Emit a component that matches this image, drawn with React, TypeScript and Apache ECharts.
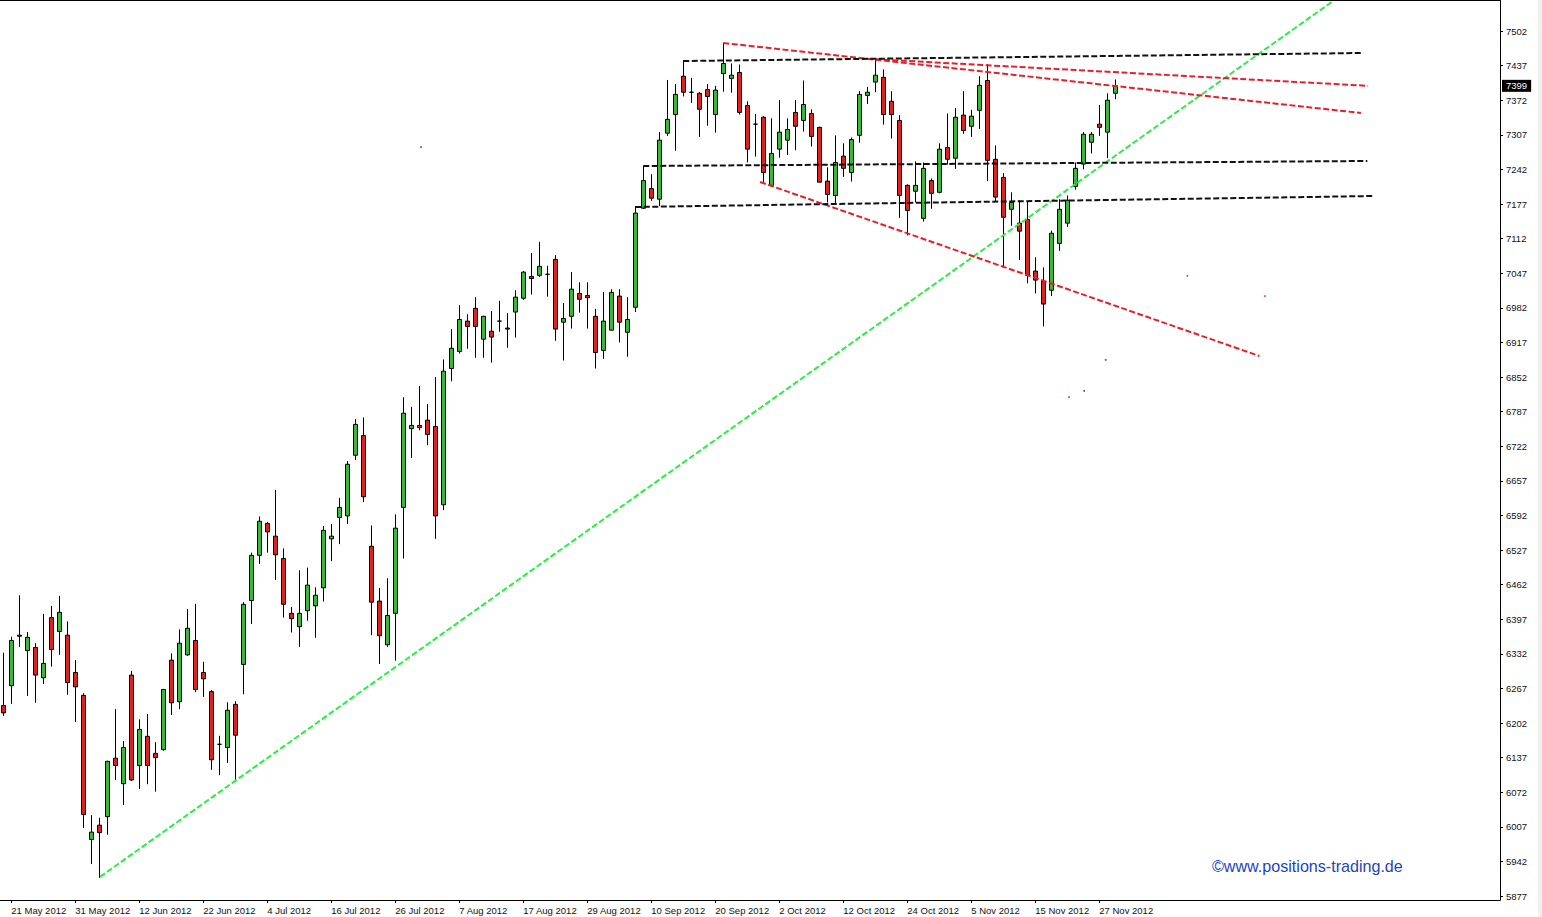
import { useEffect, useRef } from "react";
import * as echarts from "echarts";

const opens = [
  6235, 6272, 6367, 6338, 6344, 6287, 6400, 6374, 6367, 6297,
  6254, 5983, 6010, 6026, 6136, 6088, 6292, 6122, 6177, 6145,
  6152, 6320, 6242, 6330, 6357, 6297, 6261, 6162, 6156, 6237,
  6312, 6432, 6517, 6577, 6553, 6511, 6408, 6383, 6413, 6422,
  6456, 6548, 6588, 6591, 6705, 6742, 6534, 6431, 6349, 6408,
  6607, 6755, 6761, 6771, 6759, 6612, 6868, 6900, 6957, 6981,
  6923, 6938, 6957, 6944, 6974, 7000, 7041, 7043, 7045, 7073,
  6955, 6966, 7009, 7005, 6966, 6902, 6940, 7004, 6936, 6983,
  7169, 7206, 7186, 7310, 7345, 7417, 7387, 7385, 7392, 7345,
  7422, 7413, 7424, 7362, 7327, 7340, 7212, 7280, 7297, 7349,
  7334, 7347, 7321, 7220, 7193, 7267, 7236, 7306, 7381, 7406,
  7415, 7370, 7334, 7212, 7201, 7150, 7221, 7199, 7283, 7263,
  7344, 7323, 7353, 7409, 7261, 7227, 7167, 7141, 7148, 7051,
  7032, 7015, 7103, 7141, 7210, 7252, 7293, 7327, 7312, 7385,
];
const closes = [
  6221, 6357, 6365, 6363, 6292, 6314, 6340, 6410, 6278, 6270,
  6030, 5997, 5996, 6130, 6122, 6156, 6095, 6190, 6122, 6137,
  6265, 6240, 6352, 6380, 6265, 6285, 6133, 6162, 6226, 6179,
  6425, 6517, 6581, 6561, 6518, 6425, 6398, 6408, 6461, 6442,
  6564, 6553, 6607, 6688, 6763, 6627, 6429, 6366, 6404, 6568,
  6784, 6761, 6757, 6744, 6591, 6863, 6906, 6960, 6947, 6947,
  6966, 6927, 6957, 6942, 7002, 7049, 7037, 7060, 7045, 6942,
  6962, 7017, 6998, 7001, 6898, 6957, 7011, 6955, 6960, 7160,
  7221, 7188, 7297, 7336, 7383, 7387, 7387, 7355, 7379, 7391,
  7441, 7419, 7349, 7280, 7327, 7236, 7272, 7312, 7317, 7323,
  7364, 7304, 7218, 7195, 7255, 7244, 7298, 7383, 7387, 7419,
  7345, 7345, 7193, 7165, 7212, 7244, 7197, 7280, 7261, 7340,
  7315, 7342, 7400, 7259, 7190, 7152, 7180, 7126, 7043, 7034,
  6989, 7122, 7167, 7184, 7244, 7308, 7308, 7321, 7372, 7399,
];
const lows = [
  6215, 6238, 6345, 6253, 6240, 6275, 6308, 6330, 6255, 6204,
  6005, 5937, 5911, 5992, 6095, 6048, 6093, 6078, 6087, 6073,
  6150, 6217, 6228, 6328, 6260, 6251, 6114, 6104, 6127, 6092,
  6256, 6388, 6501, 6522, 6471, 6400, 6372, 6345, 6394, 6362,
  6430, 6506, 6538, 6576, 6696, 6617, 6367, 6313, 6345, 6319,
  6511, 6700, 6752, 6724, 6548, 6602, 6844, 6896, 6905, 6888,
  6888, 6879, 6937, 6907, 6926, 6997, 7007, 7040, 7003, 6920,
  6883, 6943, 6973, 6943, 6868, 6886, 6940, 6917, 6890, 6974,
  7168, 7183, 7173, 7305, 7277, 7379, 7367, 7303, 7324, 7311,
  7388, 7386, 7345, 7255, 7266, 7216, 7212, 7264, 7269, 7278,
  7313, 7285, 7218, 7180, 7178, 7228, 7219, 7292, 7365, 7387,
  7326, 7300, 7151, 7118, 7180, 7144, 7168, 7197, 7251, 7243,
  7309, 7303, 7318, 7220, 7182, 7059, 7136, 7072, 7028, 7009,
  6947, 7004, 7089, 7134, 7204, 7242, 7272, 7305, 7263, 7374,
];
const highs = [
  6334, 6364, 6442, 6373, 6352, 6407, 6422, 6441, 6393, 6320,
  6258, 6029, 6024, 6131, 6228, 6168, 6300, 6209, 6219, 6166,
  6266, 6333, 6378, 6416, 6426, 6317, 6264, 6178, 6241, 6243,
  6429, 6522, 6590, 6580, 6640, 6530, 6420, 6489, 6494, 6457,
  6572, 6576, 6625, 6694, 6773, 6776, 6573, 6456, 6474, 6594,
  6814, 6796, 6835, 6801, 6852, 6885, 6942, 6987, 6970, 7002,
  6967, 6976, 6995, 6972, 7015, 7051, 7085, 7106, 7061, 7081,
  6991, 7049, 7030, 7030, 6980, 7012, 7017, 7017, 7002, 7173,
  7249, 7233, 7312, 7410, 7402, 7447, 7414, 7387, 7402, 7399,
  7480, 7441, 7439, 7370, 7346, 7342, 7338, 7372, 7338, 7372,
  7409, 7355, 7322, 7246, 7306, 7291, 7302, 7389, 7397, 7451,
  7430, 7389, 7344, 7214, 7257, 7255, 7225, 7291, 7347, 7357,
  7389, 7354, 7417, 7440, 7287, 7235, 7199, 7184, 7182, 7077,
  7058, 7127, 7186, 7193, 7255, 7312, 7312, 7363, 7385, 7411,
];

// bar index -> date label, every 8th bar
const dateTicks = [1, 9, 17, 25, 33, 41, 49, 57, 65, 73, 81, 89, 97, 105, 113, 121, 129, 137];
const dateLabels = [
  "21 May 2012", "31 May 2012", "12 Jun 2012", "22 Jun 2012", "4 Jul 2012", "16 Jul 2012",
  "26 Jul 2012", "7 Aug 2012", "17 Aug 2012", "29 Aug 2012", "10 Sep 2012", "20 Sep 2012",
  "2 Oct 2012", "12 Oct 2012", "24 Oct 2012", "5 Nov 2012", "15 Nov 2012", "27 Nov 2012",
];
const priceTicks = [
  7502, 7437, 7372, 7307, 7242, 7177, 7112, 7047, 6982, 6917, 6852, 6787, 6722,
  6657, 6592, 6527, 6462, 6397, 6332, 6267, 6202, 6137, 6072, 6007, 5942, 5877,
];
const lastPrice = 7399;

// trend lines: [bar index, price]
const greenTrend = [[12.1, 5913], [166.2, 7558]];
const redTopLong = [[90, 7479.5], [169.7, 7348]];
const redTopShort = [[109, 7449], [170.6, 7399]];
const redLower = [[94.6, 7218.3], [157, 6891.5]];
const blackTop = [[85, 7445.6], [170, 7460.7]];
const blackMiddle = [[80, 7248.4], [170.5, 7257.8]];
const blackLower = [[79, 7171.4], [171.2, 7192]];

const redSpecks = [[148, 7042], [157.7, 7004], [133.2, 6814]];
const blackSpecks = [[137.8, 6884], [135.1, 6826], [52.2, 7284]];

const AXIS_FONT = "Liberation Sans";

function trendLine(name: string, data: number[][], color: string) {
  return {
    name,
    type: "line" as const,
    data,
    symbol: "none",
    silent: true,
    lineStyle: { color, width: 2, type: [6, 2.5] as number[] },
    z: 5,
  };
}

export default function App() {
  const elementRef = useRef<HTMLDivElement | null>(null);

  useEffect(() => {
    if (!elementRef.current) return;
    const chart = echarts.init(elementRef.current, undefined, { renderer: "svg" });
    chart.setOption({
      animation: false,
      backgroundColor: "#ffffff",
      grid: { left: 0, top: 0, width: 1500, height: 900 },
      xAxis: {
        type: "value",
        min: -0.4125,
        max: 187.0875,
        splitLine: { show: false },
        axisLine: { onZero: false, lineStyle: { color: "#000", width: 1 } },
        axisTick: { customValues: dateTicks, length: 3, lineStyle: { color: "#000" } },
        axisLabel: {
          customValues: dateTicks,
          formatter: (value: number) => dateLabels[dateTicks.indexOf(value)] ?? "",
          align: "left",
          margin: 5,
          color: "#111",
          fontFamily: AXIS_FONT,
          fontSize: 9.5,
        },
      },
      yAxis: {
        type: "value",
        position: "right",
        min: 5869.5,
        max: 7560.24,
        splitLine: { show: false },
        axisLine: { onZero: false, lineStyle: { color: "#000", width: 1 } },
        axisTick: { customValues: priceTicks, length: 3, lineStyle: { color: "#000" } },
        axisLabel: {
          customValues: priceTicks,
          formatter: (value: number) => String(value),
          margin: 6,
          color: "#111",
          fontFamily: AXIS_FONT,
          fontSize: 9.5,
        },
      },
      series: [
        {
          name: "candles",
          type: "candlestick",
          data: opens.map((open, i) => [i, open, closes[i], lows[i], highs[i]]),
          encode: { x: 0, y: [1, 2, 3, 4] },
          barWidth: 4,
          itemStyle: { color: "#38b838", color0: "#dd2020", borderColor: "#000", borderColor0: "#000", borderWidth: 1 },
          markLine: {
            silent: true,
            symbol: "none",
            lineStyle: { color: "transparent", width: 0 },
            label: {
              show: true,
              position: "end",
              distance: 2,
              formatter: String(lastPrice),
              backgroundColor: "#000",
              color: "#fff",
              padding: [1, 4],
              fontFamily: AXIS_FONT,
              fontSize: 9.5,
            },
            data: [{ yAxis: lastPrice }],
          },
        },
        trendLine("green trend", greenTrend, "#2bee44"),
        trendLine("red top long", redTopLong, "#e81f2a"),
        trendLine("red top short", redTopShort, "#e81f2a"),
        trendLine("red lower", redLower, "#e81f2a"),
        trendLine("black top", blackTop, "#111"),
        trendLine("black middle", blackMiddle, "#111"),
        trendLine("black lower", blackLower, "#111"),
        { name: "red specks", type: "scatter", data: redSpecks, symbolSize: 2, silent: true, itemStyle: { color: "#d03030" } },
        { name: "black specks", type: "scatter", data: blackSpecks, symbolSize: 2, silent: true, itemStyle: { color: "#444" } },
      ],
      graphic: [
        { type: "line", shape: { x1: 0, y1: 0.5, x2: 1500, y2: 0.5 }, style: { stroke: "#000", lineWidth: 1 } },
        { type: "rect", shape: { x: 1538, y: 0, width: 4, height: 917 }, style: { fill: "#f0f0f0" } },
        {
          type: "text",
          x: 1212,
          y: 858,
          style: { text: "©www.positions-trading.de", fill: "#2244c4", fontFamily: "Liberation Sans", fontSize: 16.1 },
        },
      ],
    });
    return () => chart.dispose();
  }, []);

  return <div ref={elementRef} style={{ position: "absolute", left: 0, top: 0, width: 1542, height: 917 }} />;
}
